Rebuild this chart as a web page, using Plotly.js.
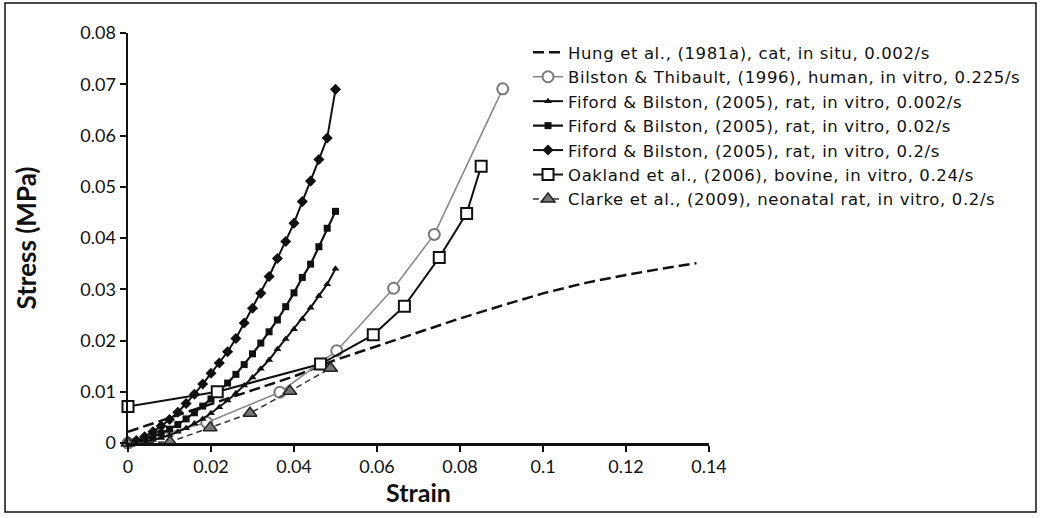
<!DOCTYPE html>
<html>
<head>
<meta charset="utf-8">
<script src="https://cdn.plot.ly/plotly-3.0.1.min.js"></script>
<style>html,body{margin:0;padding:0;background:#fff;}#chart{width:1042px;height:518px;}
.legendtext{letter-spacing:0.62px;}</style>
</head>
<body>
<div id="chart"></div>
<script>
// Series names
const names = [
  "Hung et al., (1981a), cat, in situ, 0.002/s",
  "Bilston & Thibault, (1996), human, in vitro, 0.225/s",
  "Fiford & Bilston, (2005), rat, in vitro, 0.002/s",
  "Fiford & Bilston, (2005), rat, in vitro, 0.02/s",
  "Fiford & Bilston, (2005), rat, in vitro, 0.2/s",
  "Oakland et al., (2006), bovine, in vitro, 0.24/s",
  "Clarke et al., (2009), neonatal rat, in vitro, 0.2/s"
];

// Hung et al. (dashed curve)
const hungStrain = [0, 0.01, 0.02, 0.03, 0.04, 0.05, 0.06, 0.07, 0.08, 0.09, 0.1, 0.11, 0.12, 0.13, 0.137];
const hungStress = [0.0022, 0.0049, 0.0076, 0.0102, 0.0130, 0.0162, 0.0189, 0.0216, 0.0243, 0.0268, 0.0292, 0.0312, 0.0328, 0.0342, 0.0351];

// Bilston & Thibault
const bilStrain = [0, 0.019, 0.0366, 0.0503, 0.0640, 0.0738, 0.0903];
const bilStress = [0, 0.0040, 0.0099, 0.0180, 0.0302, 0.0407, 0.0691];

// Fiford & Bilston (shared strain grid)
const fifStrain = [0, 0.002, 0.004, 0.006, 0.008, 0.010, 0.012, 0.014, 0.016, 0.018, 0.020, 0.022, 0.024,
  0.026, 0.028, 0.030, 0.032, 0.034, 0.036, 0.038, 0.040, 0.042, 0.044, 0.046, 0.048, 0.050];
const fif0002Stress = [0, 0.0001, 0.0003, 0.0006, 0.0010, 0.0015, 0.0022, 0.0029, 0.0038, 0.0047, 0.0058, 0.0070, 0.0083,
  0.0097, 0.0112, 0.0128, 0.0145, 0.0162, 0.0183, 0.0203, 0.0222, 0.0242, 0.0264, 0.0287, 0.0310, 0.0340];
const fif002Stress = [0, 0.0002, 0.0006, 0.0012, 0.0019, 0.0027, 0.0036, 0.0047, 0.0059, 0.0072, 0.0086, 0.0101, 0.0117,
  0.0134, 0.0153, 0.0174, 0.0195, 0.0217, 0.0240, 0.0266, 0.0293, 0.0323, 0.0349, 0.0383, 0.0419, 0.0452];
const fif02Stress = [0, 0.0005, 0.0012, 0.0022, 0.0033, 0.0046, 0.0060, 0.0077, 0.0095, 0.0115, 0.0136, 0.0156, 0.0178,
  0.0204, 0.0234, 0.0263, 0.0292, 0.0325, 0.0360, 0.0393, 0.0429, 0.0471, 0.0511, 0.0553, 0.0595, 0.0690];

// Oakland et al.
const oakStrain = [0, 0.0215, 0.0464, 0.0591, 0.0666, 0.0750, 0.0816, 0.0851];
const oakStress = [0.0071, 0.0100, 0.0154, 0.0211, 0.0267, 0.0362, 0.0448, 0.0540];

// Clarke et al.
const claStrain = [0, 0.0101, 0.0198, 0.0294, 0.0390, 0.0488];
const claStress = [0, 0.0002, 0.0030, 0.0058, 0.0101, 0.0146];

// Axis ticks
const xTicks = [0, 0.02, 0.04, 0.06, 0.08, 0.1, 0.12, 0.14];
const xTickText = ["0", "0.02", "0.04", "0.06", "0.08", "0.1", "0.12", "0.14"];
const yTicks = [0, 0.01, 0.02, 0.03, 0.04, 0.05, 0.06, 0.07, 0.08];
const yTickText = ["0", "0.01", "0.02", "0.03", "0.04", "0.05", "0.06", "0.07", "0.08"];

const FONT = "Lato, 'Open Sans', sans-serif";
const LEGFONT = "'DejaVu Sans', sans-serif";

const traces = [
  {x: hungStrain, y: hungStress, name: names[0], mode: "lines",
   line: {color: "#111", width: 2.5, dash: "11px,5px"}},
  {x: bilStrain, y: bilStress, name: names[1], mode: "lines+markers",
   line: {color: "#8a8a8a", width: 1.6},
   marker: {symbol: "circle", size: 11, color: "#fff", line: {color: "#7a7a7a", width: 2}}},
  {x: fifStrain, y: fif0002Stress, name: names[2], mode: "lines+markers",
   line: {color: "#111", width: 2},
   marker: {symbol: "triangle-up", size: 7, color: "#111"}},
  {x: fifStrain, y: fif002Stress, name: names[3], mode: "lines+markers",
   line: {color: "#111", width: 2.2},
   marker: {symbol: "square", size: 7, color: "#111"}},
  {x: fifStrain, y: fif02Stress, name: names[4], mode: "lines+markers",
   line: {color: "#111", width: 2},
   marker: {symbol: "diamond", size: 8.5, color: "#111"}},
  {x: oakStrain, y: oakStress, name: names[5], mode: "lines+markers",
   line: {color: "#111", width: 2},
   marker: {symbol: "square", size: 11, color: "#fff", line: {color: "#111", width: 2}}},
  {x: claStrain, y: claStress, name: names[6], mode: "lines+markers",
   line: {color: "#333", width: 1.5, dash: "6px,4px"},
   marker: {symbol: "triangle-up", size: 12, color: "#777", line: {color: "#222", width: 1.5}}}
];
traces.forEach(t => { t.cliponaxis = false; });

const layout = {
  width: 1042, height: 518,
  margin: {l: 128, r: 333, t: 33, b: 75, autoexpand: false},
  paper_bgcolor: "#fff", plot_bgcolor: "#fff",
  font: {family: FONT, size: 18, color: "#111"},
  showlegend: true,
  legend: {x: 0.6885, xanchor: "left", y: 0.995, yanchor: "top", xref: "paper", yref: "paper",
    font: {family: LEGFONT, size: 16.5, color: "#111"}, bgcolor: "rgba(0,0,0,0)", tracegroupgap: 0,
    itemwidth: 30},
  xaxis: {
    range: [0, 0.14], tickvals: xTicks, ticktext: xTickText,
    showgrid: false, zeroline: false, showline: true, linecolor: "#111", linewidth: 2.5,
    ticks: "outside", ticklen: 6, tickwidth: 2, tickcolor: "#111",
    tickfont: {family: FONT, size: 18, color: "#111"},
    title: {text: "<b>Strain</b>", font: {family: FONT, size: 25, color: "#111"}, standoff: 6}
  },
  yaxis: {
    range: [0, 0.08], tickvals: yTicks, ticktext: yTickText,
    showgrid: false, zeroline: false, showline: true, linecolor: "#111", linewidth: 2.5,
    ticks: "outside", ticklen: 6, tickwidth: 2, tickcolor: "#111",
    tickfont: {family: FONT, size: 18, color: "#111"},
    title: {text: "<b>Stress (MPa)</b>", font: {family: FONT, size: 26, color: "#111"}, standoff: 36}
  },
  shapes: [{type: "rect", xref: "paper", yref: "paper", x0: -0.2117, x1: 1.5628, y0: -0.1683, y1: 1.0732,
    line: {color: "#111", width: 1.5}, fillcolor: "rgba(0,0,0,0)", layer: "below"}]
};

Plotly.newPlot("chart", traces, layout, {displayModeBar: false, staticPlot: true});
</script>
</body>
</html>
